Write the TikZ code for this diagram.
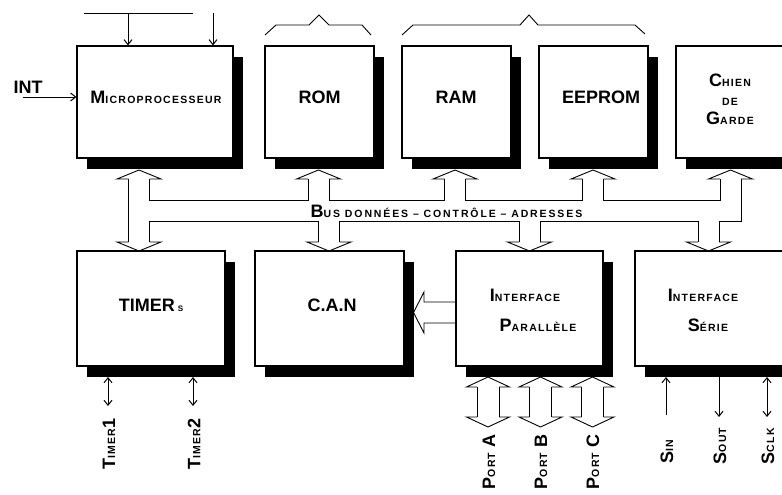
\documentclass[tikz,border=0pt]{standalone}
\usepackage{fontspec}
\setmainfont{Liberation Sans}
\usetikzlibrary{shadows,arrows.meta}
\newcommand\bigf{\fontsize{18}{20}\selectfont}
\newcommand\smf[1]{{\fontsize{10.5}{12}\selectfont\addfontfeatures{LetterSpace=12}#1}}
\newcommand\smfw[1]{{\fontsize{10.5}{12}\selectfont\addfontfeatures{LetterSpace=18}#1}}
\newcommand\bhup[2]{\draw[busl] ({#1-10.5},{#2+9}) -- ({#1-22},{#2+9}) -- (#1,#2) -- ({#1+22},{#2+9}) -- ({#1+10.5},{#2+9});}
\newcommand\bhdown[2]{\draw[busl] ({#1-10.5},{#2-9}) -- ({#1-22},{#2-9}) -- (#1,#2) -- ({#1+22},{#2-9}) -- ({#1+10.5},{#2-9});}
\newcommand\portarrow[1]{%
  \draw[busl] ({#1-11},387) -- ({#1-11},417);
  \draw[busl] ({#1+11},387) -- ({#1+11},417);
  \draw[busl] ({#1-11},387) -- ({#1-21.5},387) -- (#1,377) -- ({#1+21.5},387) -- ({#1+11},387);
  \draw[busl] ({#1-11},417) -- ({#1-21.5},417) -- (#1,427) -- ({#1+21.5},417) -- ({#1+11},417);}
\begin{document}
\begin{tikzpicture}[x=1pt,y=-1pt, font=\bfseries\bigf,
  box/.style={draw, line width=1.2pt, fill=white, inner sep=0pt,
    general shadow={fill=black, shadow xshift=10pt, shadow yshift=-11pt}},
  busl/.style={line width=0.9pt, line join=miter},
  sarrow/.style={line width=1pt, -{Straight Barb[length=5pt,width=8pt]}},
  darrow/.style={line width=1pt, {Straight Barb[length=5pt,width=8pt]}-{Straight Barb[length=5pt,width=8pt]}},
  lbl/.style={inner sep=0pt, anchor=center}]
\useasboundingbox (0,0) rectangle (782,495);

% boxes
\node[box, minimum width=156pt, minimum height=112pt] (micro) at (155,102) {};
\node[box, minimum width=109pt, minimum height=112pt] (rom) at (319.5,102) {};
\node[box, minimum width=109pt, minimum height=112pt] (ram) at (456.5,102) {};
\node[box, minimum width=109pt, minimum height=112pt] (eeprom) at (593.5,102) {};
\node[box, minimum width=109pt, minimum height=112pt] (chien) at (730.5,102) {};
\node[box, minimum width=148pt, minimum height=115pt] (timer) at (151,308.5) {};
\node[box, minimum width=149pt, minimum height=115pt] (can) at (329.5,308.5) {};
\node[box, minimum width=147pt, minimum height=115pt] (par) at (529.5,308.5) {};
\node[box, minimum width=149pt, minimum height=115pt] (ser) at (709.5,308.5) {};

% box texts
\node[lbl] (tmicro) at (156,97) {M\smf{ICROPROCESSEUR}};
\node[lbl] (trom) at (319.5,97) {ROM};
\node[lbl] (tram) at (456,97) {RAM};
\node[lbl] (teeprom) at (601,97) {EEPROM};
\node[lbl, align=center] (tchien) at (730,99) {C\smf{HIEN}\\[-1pt]\smf{DE}\\[-1pt]G\smf{ARDE}};
\node[lbl] (ttimer) at (151,305) {TIMER\,{\fontsize{8}{9}\selectfont S}};
\node[lbl] (tcan) at (332,305) {C.A.N};
\node[lbl] (tpar1) at (525,295) {I\smf{NTERFACE}};
\node[lbl] (tpar2) at (538,325) {P\smf{ARALLÈLE}};
\node[lbl] (tser1) at (703,295) {I\smf{NTERFACE}};
\node[lbl] (tser2) at (708,325) {S\smf{ÉRIE}};

% top inputs
\coordinate (h1) at (84,14);
\coordinate (h2) at (193,14);
\draw[line width=1pt] (h1) -- (h2);
\coordinate (in1) at (128,14);
\coordinate (in2) at (213,13);
\draw[sarrow] (in1) -- (in1 |- micro.north);
\draw[sarrow] (in2) -- (in2 |- micro.north);
\node[lbl] (tint) at (28,87) {INT};
\coordinate (intsrc) at (23,97);
\draw[sarrow] (intsrc) -- (intsrc -| micro.west);

% braces
\draw[line width=0.9pt] (265,35) -- (276,25) -- (309,25) -- (319,15) -- (329,25) -- (362,25) -- (371,35);
\draw[line width=0.9pt] (402,35) -- (413,25) -- (520,25) -- (529,15) -- (538,25) -- (635,25) -- (645,34);

% bus
\bhup{139}{170}
\bhdown{139}{251}
\draw[busl] (128.5,179) -- (128.5,242);
\bhup{318.5}{170}
\bhup{455}{170}
\bhup{593}{170}
\bhup{730.5}{170}
\bhdown{329}{251}
\bhdown{529.5}{251}
\bhdown{708.5}{251}
\draw[busl] (149.5,179) -- (149.5,200) -- (308,200) -- (308,179);
\draw[busl] (329,179) -- (329,200) -- (444.5,200) -- (444.5,179);
\draw[busl] (465.5,179) -- (465.5,200) -- (582.5,200) -- (582.5,179);
\draw[busl] (603.5,179) -- (603.5,200) -- (720,200) -- (720,179);
\draw[busl] (741,179) -- (741,221) -- (719,221) -- (719,242);
\draw[busl] (698,242) -- (698,221) -- (540,221) -- (540,242);
\draw[busl] (519,242) -- (519,221) -- (339.5,221) -- (339.5,242);
\draw[busl] (318.5,242) -- (318.5,221) -- (149.5,221) -- (149.5,242);
\node[lbl] (tbus) at (446.5,211) {B\smfw{US DONNÉES – CONTRÔLE – ADRESSES}};

% parallel -> CAN
\draw[busl] (456,302) -- (424,302) -- (424,292) -- (413.5,312.5) -- (424,333) -- (424,323) -- (456,323);

% ports
\portarrow{488}
\portarrow{540.5}
\portarrow{592.5}
\node[lbl, rotate=90] (pa) at (489,462) {P\smf{ORT} A};
\node[lbl, rotate=90] (pb) at (541,462) {P\smf{ORT} B};
\node[lbl, rotate=90] (pc) at (593,462) {P\smf{ORT} C};

% timers
\draw[darrow] (108,377) -- (108,406);
\draw[darrow] (193,377) -- (193,406);
\node[lbl, rotate=90] (t1) at (109,444) {T\smf{IMER}1};
\node[lbl, rotate=90] (t2) at (194,444) {T\smf{IMER}2};

% serial
\draw[sarrow] (666,415) -- (666,377);
\draw[sarrow] (719,377) -- (719,417);
\draw[darrow] (767,377) -- (767,417);
\node[lbl, rotate=90] (sin) at (667,452) {S\smf{IN}};
\node[lbl, rotate=90] (sout) at (720,446) {S\smf{OUT}};
\node[lbl, rotate=90] (sclk) at (768,446) {S\smf{CLK}};
\end{tikzpicture}
\end{document}
